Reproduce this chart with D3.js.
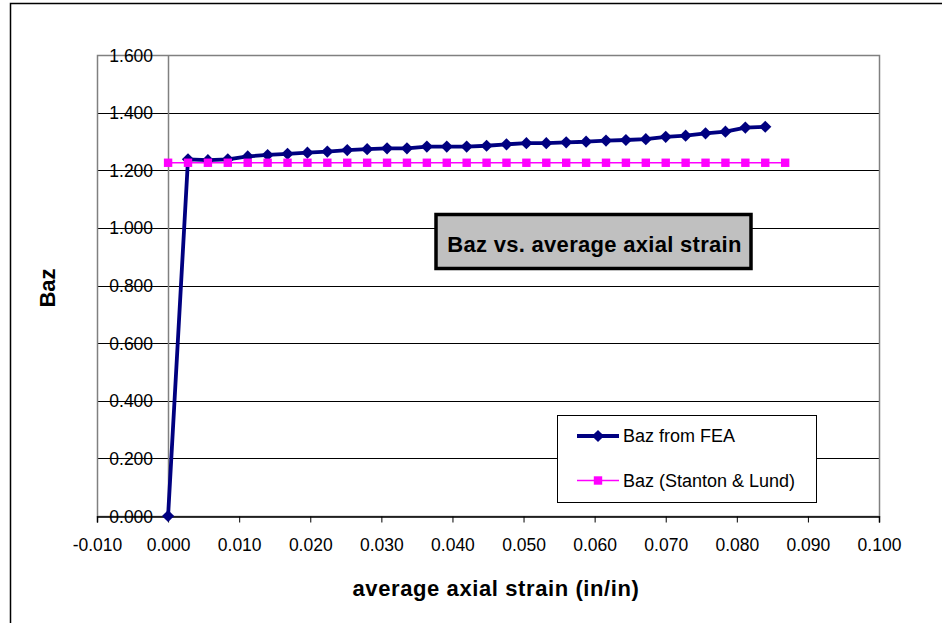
<!DOCTYPE html>
<html>
<head>
<meta charset="utf-8">
<script src="https://cdn.jsdelivr.net/npm/d3@7"></script>
<style>
  body { margin: 0; background: #fff; }
  svg { display: block; font-family: "Liberation Sans", Arial, sans-serif; }
</style>
</head>
<body>
<main></main>
<script>
// strain values (in/in)
const strainFEA = [0, 0.0028, 0.0056, 0.0084, 0.0112, 0.0140, 0.0168, 0.0196, 0.0224, 0.0252,
  0.0280, 0.0308, 0.0336, 0.0364, 0.0392, 0.0420, 0.0448, 0.0476, 0.0504, 0.0532,
  0.0560, 0.0588, 0.0616, 0.0644, 0.0672, 0.0700, 0.0728, 0.0756, 0.0784, 0.0812, 0.0840];
const bazFEA = [0, 1.238, 1.235, 1.238, 1.248, 1.253, 1.257, 1.261, 1.265, 1.270,
  1.273, 1.276, 1.276, 1.282, 1.282, 1.282, 1.285, 1.290, 1.294, 1.294,
  1.297, 1.299, 1.303, 1.305, 1.308, 1.316, 1.320, 1.328, 1.334, 1.348, 1.351];
const strainSL = [0, 0.0028, 0.0056, 0.0084, 0.0112, 0.0140, 0.0168, 0.0196, 0.0224, 0.0252,
  0.0280, 0.0308, 0.0336, 0.0364, 0.0392, 0.0420, 0.0448, 0.0476, 0.0504, 0.0532,
  0.0560, 0.0588, 0.0616, 0.0644, 0.0672, 0.0700, 0.0728, 0.0756, 0.0784, 0.0812, 0.0840, 0.0868];
const bazSL = [1.226, 1.226, 1.226, 1.226, 1.226, 1.226, 1.226, 1.226, 1.226, 1.226,
  1.226, 1.226, 1.226, 1.226, 1.226, 1.226, 1.226, 1.226, 1.226, 1.226,
  1.226, 1.226, 1.226, 1.226, 1.226, 1.226, 1.226, 1.226, 1.226, 1.226, 1.226, 1.226];
const xTicks = [-0.01, 0, 0.01, 0.02, 0.03, 0.04, 0.05, 0.06, 0.07, 0.08, 0.09, 0.1];
const yTicks = [0, 0.2, 0.4, 0.6, 0.8, 1.0, 1.2, 1.4, 1.6];
const seriesNames = ['Baz from FEA', 'Baz (Stanton & Lund)'];
const chartTitle = 'Baz vs. average axial strain';

const width = 942, height = 623;
const plot = { left: 97, right: 879, top: 55, bottom: 516 };
const fmt = d => d3.format('.3f')(d).replace('\u2212', '-');

let svg = d3.select('main').append('svg')
  .attr('width', width).attr('height', height);

// outer chart border
svg.append('path')
  .attr('d', 'M10.5,' + height + 'V3.5H' + (width + 2))
  .attr('fill', 'none').attr('stroke', '#000').attr('stroke-width', 1.5);

const x = d3.scaleLinear().domain([-0.01, 0.1]).range([plot.left, plot.right]);
const y = d3.scaleLinear().domain([0, 1.6]).range([plot.bottom, plot.top]);

// gridlines
svg.append('g').selectAll('line').data(yTicks).enter().append('line')
  .attr('x1', plot.left).attr('x2', plot.right)
  .attr('y1', d => Math.round(y(d)) + 0.5).attr('y2', d => Math.round(y(d)) + 0.5)
  .attr('stroke', '#000').attr('stroke-width', 1);

// plot area border
svg.append('rect')
  .attr('x', plot.left + 0.5).attr('y', plot.top + 0.5)
  .attr('width', plot.right - plot.left).attr('height', plot.bottom - plot.top)
  .attr('fill', 'none').attr('stroke', '#808080').attr('stroke-width', 1.5);

// y axis at x = 0
svg.append('line')
  .attr('x1', Math.round(x(0)) + 0.5).attr('x2', Math.round(x(0)) + 0.5)
  .attr('y1', plot.top).attr('y2', plot.bottom)
  .attr('stroke', '#808080').attr('stroke-width', 1.5);

// x axis at y = 0
let xAxis = svg.append('g')
  .attr('transform', 'translate(0,' + (Math.round(y(0)) + 0.5) + ')')
  .call(d3.axisBottom(x).tickValues(xTicks).tickSize(6).tickPadding(16)
    .tickFormat(fmt));
xAxis.select('.domain').attr('stroke', '#000').attr('stroke-width', 1.5);
xAxis.selectAll('.tick line').attr('stroke', '#000');
xAxis.selectAll('.tick text')
  .attr('font-size', 17.5).attr('font-family', '"Liberation Sans", Arial, sans-serif')
  .attr('fill', '#000');

// y tick labels
svg.append('g').selectAll('text').data(yTicks).enter().append('text')
  .attr('x', x(0) - 15).attr('y', d => y(d) + 6.5)
  .attr('text-anchor', 'end').attr('font-size', 17.5)
  .text(fmt);

// series lines
const line = d3.line().x(d => x(d[0])).y(d => y(d[1]));
const fea = strainFEA.map((s, i) => [s, bazFEA[i]]);
const sl = strainSL.map((s, i) => [s, bazSL[i]]);

svg.append('path').datum(fea).attr('d', line)
  .attr('fill', 'none').attr('stroke', '#000080').attr('stroke-width', 3.8)
  .attr('stroke-linejoin', 'round');
svg.append('g').selectAll('path').data(fea).enter().append('path')
  .attr('d', d3.symbol().type(d3.symbolDiamond2).size(95))
  .attr('transform', d => 'translate(' + x(d[0]) + ',' + y(d[1]) + ')')
  .attr('fill', '#000080');

svg.append('path').datum(sl).attr('d', line)
  .attr('fill', 'none').attr('stroke', '#ff00ff').attr('stroke-width', 1.3);
svg.append('g').selectAll('rect').data(sl).enter().append('rect')
  .attr('x', d => x(d[0]) - 4.2).attr('y', d => y(d[1]) - 4.2)
  .attr('width', 8.4).attr('height', 8.4)
  .attr('fill', '#ff00ff');

// title box
svg.append('rect')
  .attr('x', 436).attr('y', 214.5).attr('width', 315).attr('height', 54)
  .attr('fill', '#c0c0c0').attr('stroke', '#000').attr('stroke-width', 3.5);
svg.append('text')
  .attr('x', 594.5).attr('y', 251.5).attr('text-anchor', 'middle')
  .attr('font-size', 22).attr('font-weight', 'bold').attr('letter-spacing', 0.3)
  .text(chartTitle);

// legend
svg.append('rect')
  .attr('x', 557.5).attr('y', 415.5).attr('width', 259).attr('height', 87)
  .attr('fill', '#fff').attr('stroke', '#000').attr('stroke-width', 1);
svg.append('line').attr('x1', 577).attr('x2', 619).attr('y1', 436).attr('y2', 436)
  .attr('stroke', '#000080').attr('stroke-width', 3.8);
svg.append('path')
  .attr('d', d3.symbol().type(d3.symbolDiamond2).size(95))
  .attr('transform', 'translate(598,436)').attr('fill', '#000080');
svg.append('line').attr('x1', 577).attr('x2', 619).attr('y1', 480.5).attr('y2', 480.5)
  .attr('stroke', '#ff00ff').attr('stroke-width', 1.3);
svg.append('rect').attr('x', 593.8).attr('y', 476.3).attr('width', 8.4).attr('height', 8.4)
  .attr('fill', '#ff00ff');
svg.append('g').selectAll('text').data(seriesNames).enter().append('text')
  .attr('x', 623).attr('y', (d, i) => 442 + i * 45)
  .attr('font-size', 18)
  .text(d => d);

// axis titles
svg.append('text')
  .attr('x', 496).attr('y', 596).attr('text-anchor', 'middle')
  .attr('font-size', 22).attr('font-weight', 'bold').attr('letter-spacing', 0.6)
  .text('average axial strain (in/in)');
svg.append('text')
  .attr('transform', 'translate(55,288) rotate(-90)')
  .attr('text-anchor', 'middle')
  .attr('font-size', 22).attr('font-weight', 'bold')
  .text('Baz');
</script>
</body>
</html>
